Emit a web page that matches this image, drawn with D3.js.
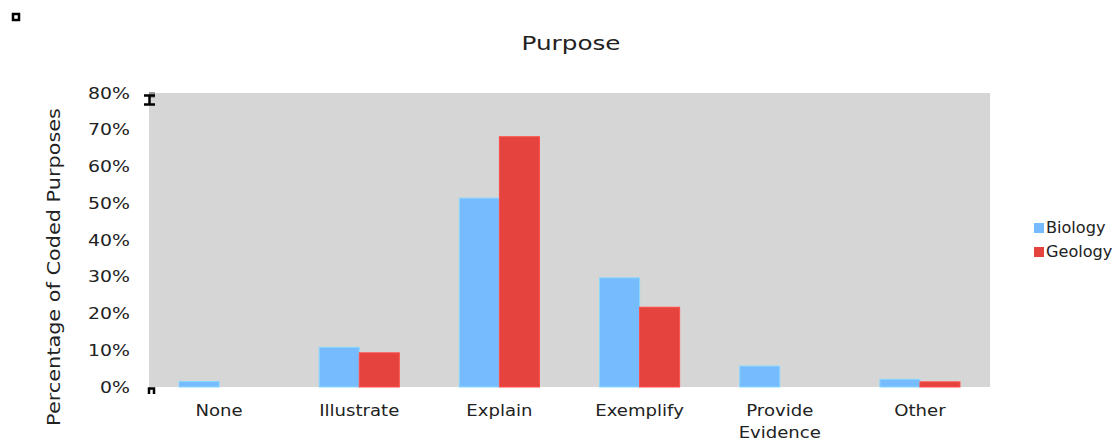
<!DOCTYPE html>
<html>
<head>
<meta charset="utf-8">
<script src="https://cdn.jsdelivr.net/npm/d3@7"></script>
<style>
  html, body { margin: 0; padding: 0; background: #fff; }
  svg { display: block; }
  text { font-family: "DejaVu Sans", Verdana, sans-serif; fill: #222; }
</style>
</head>
<body>
<svg id="chart" width="1115" height="441"></svg>
<script>
// Share of coded purposes per category, by discipline
const categories = ["None", "Illustrate", "Explain", "Exemplify", "Provide Evidence", "Other"];
const seriesNames = ["Biology", "Geology"];
const biology = [0.015, 0.108, 0.514, 0.297, 0.057, 0.021];
const geology = [0.000, 0.093, 0.681, 0.217, 0.000, 0.014];
const yTicks = [0, 0.1, 0.2, 0.3, 0.4, 0.5, 0.6, 0.7, 0.8];
const colors = ["#77BBFF", "#E5433E"];

const svg = d3.select("#chart");
const margin = { left: 149, right: 125, top: 93, bottom: 54 };
const W = 1115, H = 441;
const plotW = W - margin.left - margin.right;
const plotH = H - margin.top - margin.bottom;

const g = svg.append("g").attr("transform", `translate(${margin.left},${margin.top})`);

const x0 = d3.scaleBand().domain(categories).range([0, plotW]).paddingInner(0).paddingOuter(0);
const x1 = d3.scaleBand().domain(seriesNames).range([x0.bandwidth() * 0.2143, x0.bandwidth() * (1 - 0.2143)]);
const y = d3.scaleLinear().domain([0, 0.8]).range([plotH, 0]);

// plot background
g.append("rect").attr("width", plotW).attr("height", plotH).attr("fill", "#D6D6D6");

const rows = categories.map((c, i) => ({ cat: c, values: [biology[i], geology[i]] }));

g.selectAll("g.grp").data(rows).join("g")
  .attr("class", "grp")
  .attr("transform", d => `translate(${x0(d.cat)},0)`)
  .selectAll("rect").data(d => d.values.map((v, k) => ({ s: seriesNames[k], v, k })))
  .join("rect")
  .attr("x", d => x1(d.s))
  .attr("width", x1.bandwidth())
  .attr("y", d => y(d.v))
  .attr("height", d => plotH - y(d.v))
  .attr("fill", d => colors[d.k])
  .attr("stroke", d => d3.color(colors[d.k]).brighter(0.4))
  .attr("stroke-width", 1)
  .attr("display", d => d.v > 0 ? null : "none");

// y axis labels, horizontally widened type
const yAxis = d3.axisLeft(y).tickValues(yTicks).tickFormat(d3.format(".0%")).tickSize(0).tickPadding(0);
const ya = g.append("g").call(yAxis);
ya.select(".domain").remove();
ya.selectAll("text")
  .attr("x", 0)
  .attr("font-size", 16)
  .style("font-family", "DejaVu Sans, sans-serif")
  .attr("fill", "#222")
  .attr("transform", "translate(-19,0) scale(1.18,1)");

// x axis labels (wrapping long names)
const xa = g.append("g").attr("transform", `translate(0,${plotH})`);
rows.forEach(r => {
  const cx = x0(r.cat) + x0.bandwidth() / 2;
  const t = xa.append("text")
    .attr("transform", `translate(${cx},29) scale(1.13,1)`)
    .attr("text-anchor", "middle")
    .attr("font-size", 16);
  r.cat.split(" ").forEach((w, i) => t.append("tspan").attr("x", 0).attr("dy", i ? 22 : 0).text(w));
});

// title
svg.append("text").attr("transform", "translate(571,50) scale(1.3,1)").attr("text-anchor", "middle")
  .attr("font-size", 19).text("Purpose");

// y axis title
svg.append("text")
  .attr("transform", `translate(60,${margin.top + plotH / 2 + 27}) rotate(-90) scale(1.19,1)`)
  .attr("text-anchor", "middle").attr("font-size", 17.5)
  .text("Percentage of Coded Purposes");

// legend
const lg = svg.append("g").attr("transform", "translate(1034,221)");
seriesNames.forEach((s, i) => {
  const row = lg.append("g").attr("transform", `translate(0,${i * 24})`);
  row.append("rect").attr("width", 10).attr("height", 10).attr("y", 2).attr("fill", colors[i]);
  row.append("text").attr("transform", "translate(12,12) scale(1.04,1)").attr("font-size", 15.5).text(s);
});

// selection handles
svg.append("rect").attr("x", 13).attr("y", 14).attr("width", 6).attr("height", 6)
  .attr("fill", "#fff").attr("stroke", "#000").attr("stroke-width", 2.5);
svg.append("rect").attr("x", 149).attr("y", 92).attr("width", 6).attr("height", 6).attr("fill", "#999");
svg.append("path").attr("d", "M144,95.5H155M149.5,95.5V104.5M144,104.5H155")
  .attr("stroke", "#000").attr("stroke-width", 2.5).attr("fill", "none");
svg.append("path").attr("d", "M149,394V388.5H154V394")
  .attr("stroke", "#000").attr("stroke-width", 2.5).attr("fill", "none");
</script>
</body>
</html>
